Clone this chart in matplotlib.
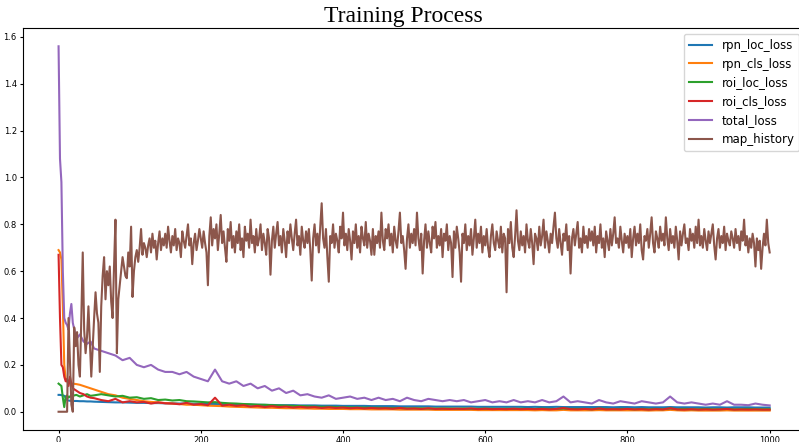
import matplotlib
matplotlib.use("Agg")
import matplotlib.pyplot as plt
import numpy as np

# iterations for the loss curves: dense at the start, every 10 after that
early_iter = [0, 2, 4, 6, 8, 10, 12, 14, 16, 18, 20, 25, 30, 35, 40, 45, 50]
loss_iter = np.concatenate([early_iter, np.arange(60, 1001, 10)])

rpn_loc_loss = [0.072, 0.072, 0.071, 0.070, 0.068, 0.060, 0.050, 0.048, 0.047, 0.047, 0.046, 0.046, 0.045, 0.045, 0.044, 0.044, 0.043,
                0.042, 0.041, 0.040, 0.040, 0.039, 0.038, 0.038, 0.037, 0.037, 0.036,
                0.036, 0.035, 0.035, 0.034, 0.034, 0.033, 0.033, 0.032, 0.032, 0.031,
                0.031, 0.030, 0.030, 0.029, 0.029, 0.028, 0.028, 0.028, 0.027, 0.027,
                0.027, 0.026, 0.026, 0.026, 0.025, 0.025, 0.025, 0.025, 0.024, 0.024,
                0.024, 0.024, 0.023, 0.023, 0.023, 0.023, 0.023, 0.022, 0.022, 0.022,
                0.022, 0.022, 0.022, 0.021, 0.021, 0.021, 0.021, 0.021, 0.021, 0.021,
                0.020, 0.021, 0.020, 0.020, 0.021, 0.020, 0.020, 0.020, 0.020, 0.020,
                0.020, 0.020, 0.019, 0.020, 0.020, 0.019, 0.020, 0.019, 0.019, 0.019,
                0.020, 0.019, 0.019, 0.019, 0.019, 0.018, 0.019, 0.019, 0.018, 0.019,
                0.019, 0.019, 0.018, 0.018, 0.018]

rpn_cls_loss = [0.69, 0.68, 0.65, 0.45, 0.20, 0.14, 0.13, 0.12, 0.125, 0.12, 0.12, 0.118, 0.115, 0.11, 0.105, 0.10, 0.095,
                0.085, 0.075, 0.070, 0.060, 0.055, 0.050, 0.045, 0.042, 0.040, 0.037,
                0.035, 0.033, 0.030, 0.030, 0.028, 0.026, 0.025, 0.024, 0.022, 0.021,
                0.020, 0.019, 0.018, 0.017, 0.017, 0.016, 0.015, 0.015, 0.014, 0.014,
                0.013, 0.013, 0.012, 0.012, 0.012, 0.011, 0.011, 0.011, 0.010, 0.010,
                0.010, 0.010, 0.009, 0.009, 0.009, 0.009, 0.009, 0.008, 0.008, 0.008,
                0.008, 0.008, 0.008, 0.007, 0.007, 0.007, 0.007, 0.007, 0.007, 0.007,
                0.007, 0.006, 0.007, 0.006, 0.006, 0.008, 0.006, 0.006, 0.006, 0.006,
                0.007, 0.006, 0.006, 0.006, 0.006, 0.006, 0.006, 0.005, 0.006, 0.006,
                0.008, 0.006, 0.005, 0.006, 0.005, 0.005, 0.005, 0.005, 0.006, 0.005,
                0.005, 0.005, 0.005, 0.005, 0.005]

roi_loc_loss = [0.12, 0.115, 0.11, 0.06, 0.02, 0.065, 0.07, 0.06, 0.065, 0.07, 0.068, 0.072, 0.065, 0.07, 0.075, 0.068, 0.07,
                0.075, 0.070, 0.065, 0.068, 0.060, 0.062, 0.055, 0.058, 0.050, 0.052,
                0.048, 0.050, 0.045, 0.044, 0.042, 0.040, 0.041, 0.038, 0.036, 0.035,
                0.033, 0.032, 0.030, 0.030, 0.028, 0.027, 0.026, 0.025, 0.024, 0.023,
                0.022, 0.021, 0.021, 0.020, 0.019, 0.019, 0.018, 0.018, 0.017, 0.017,
                0.016, 0.016, 0.016, 0.015, 0.015, 0.015, 0.014, 0.014, 0.014, 0.014,
                0.013, 0.014, 0.013, 0.013, 0.013, 0.013, 0.012, 0.013, 0.012, 0.013,
                0.012, 0.012, 0.013, 0.012, 0.012, 0.014, 0.012, 0.012, 0.012, 0.011,
                0.013, 0.012, 0.011, 0.012, 0.012, 0.011, 0.012, 0.011, 0.012, 0.011,
                0.014, 0.011, 0.012, 0.011, 0.011, 0.012, 0.011, 0.011, 0.012, 0.011,
                0.011, 0.012, 0.011, 0.011, 0.011]

roi_cls_loss = [0.67, 0.40, 0.20, 0.19, 0.15, 0.13, 0.14, 0.11, 0.15, 0.12, 0.10, 0.09, 0.08, 0.075, 0.065, 0.06, 0.058,
                0.050, 0.045, 0.055, 0.040, 0.045, 0.040, 0.042, 0.035, 0.040, 0.036,
                0.035, 0.032, 0.038, 0.030, 0.033, 0.028, 0.060, 0.026, 0.030, 0.025,
                0.028, 0.022, 0.025, 0.020, 0.024, 0.020, 0.022, 0.018, 0.021, 0.018,
                0.020, 0.016, 0.019, 0.016, 0.018, 0.015, 0.017, 0.014, 0.016, 0.014,
                0.015, 0.013, 0.016, 0.013, 0.014, 0.012, 0.015, 0.012, 0.013, 0.012,
                0.013, 0.012, 0.014, 0.011, 0.013, 0.011, 0.012, 0.011, 0.013, 0.011,
                0.012, 0.011, 0.012, 0.010, 0.012, 0.016, 0.011, 0.010, 0.012, 0.010,
                0.014, 0.010, 0.011, 0.010, 0.012, 0.010, 0.011, 0.009, 0.011, 0.010,
                0.015, 0.010, 0.009, 0.011, 0.009, 0.010, 0.009, 0.010, 0.012, 0.009,
                0.010, 0.009, 0.010, 0.009, 0.009]

total_loss = [1.56, 1.08, 0.98, 0.60, 0.40, 0.38, 0.37, 0.35, 0.42, 0.46, 0.38, 0.31, 0.33, 0.30, 0.29, 0.30, 0.27,
              0.26, 0.25, 0.24, 0.22, 0.23, 0.20, 0.19, 0.20, 0.18, 0.17,
              0.17, 0.16, 0.17, 0.15, 0.14, 0.13, 0.18, 0.13, 0.12, 0.13,
              0.11, 0.12, 0.10, 0.11, 0.09, 0.10, 0.08, 0.09, 0.07, 0.075,
              0.065, 0.06, 0.07, 0.055, 0.06, 0.065, 0.055, 0.06, 0.05, 0.06,
              0.05, 0.055, 0.045, 0.06, 0.05, 0.045, 0.055, 0.05, 0.045, 0.05,
              0.045, 0.05, 0.04, 0.045, 0.05, 0.04, 0.045, 0.04, 0.05, 0.04,
              0.045, 0.04, 0.05, 0.04, 0.045, 0.065, 0.04, 0.045, 0.04, 0.035,
              0.05, 0.04, 0.035, 0.045, 0.04, 0.035, 0.045, 0.04, 0.035, 0.04,
              0.065, 0.04, 0.035, 0.04, 0.035, 0.03, 0.035, 0.03, 0.045, 0.03,
              0.03, 0.028, 0.035, 0.03, 0.027]

# map history, one value every 2 iterations (0..1000), 25 values per row
map_history = [
    0.00, 0.00, 0.00, 0.00, 0.00, 0.00, 0.00, 0.40, 0.22, 0.03, 0.00, 0.36, 0.28, 0.34, 0.20, 0.15, 0.40, 0.68, 0.35, 0.25, 0.32, 0.45, 0.30, 0.15, 0.28,
    0.40, 0.51, 0.42, 0.38, 0.17, 0.45, 0.58, 0.66, 0.48, 0.60, 0.54, 0.62, 0.47, 0.40, 0.62, 0.82, 0.25, 0.48, 0.54, 0.60, 0.66, 0.62, 0.58, 0.57, 0.68,
    0.62, 0.79, 0.49, 0.60, 0.66, 0.69, 0.64, 0.70, 0.78, 0.67, 0.72, 0.70, 0.66, 0.71, 0.74, 0.68, 0.76, 0.70, 0.73, 0.65, 0.72, 0.77, 0.69, 0.74, 0.71,
    0.76, 0.70, 0.79, 0.73, 0.68, 0.75, 0.71, 0.78, 0.69, 0.74, 0.72, 0.66, 0.77, 0.73, 0.70, 0.75, 0.80, 0.71, 0.74, 0.63, 0.72, 0.76, 0.69, 0.73, 0.78,
    0.74, 0.70, 0.77, 0.72, 0.68, 0.54, 0.75, 0.83, 0.71, 0.78, 0.74, 0.80, 0.69, 0.76, 0.84, 0.72, 0.77, 0.70, 0.64, 0.78, 0.73, 0.81, 0.70, 0.75, 0.68,
    0.77, 0.72, 0.80, 0.69, 0.74, 0.66, 0.79, 0.73, 0.76, 0.70, 0.82, 0.72, 0.75, 0.68, 0.78, 0.71, 0.74, 0.80, 0.69, 0.76, 0.72, 0.67, 0.78, 0.74, 0.585,
    0.73, 0.79, 0.70, 0.76, 0.81, 0.71, 0.75, 0.68, 0.78, 0.73, 0.66, 0.77, 0.72, 0.80, 0.74, 0.69, 0.76, 0.82, 0.71, 0.75, 0.67, 0.79, 0.73, 0.70, 0.77,
    0.72, 0.78, 0.69, 0.56, 0.74, 0.80, 0.71, 0.76, 0.68, 0.79, 0.89, 0.74, 0.70, 0.78, 0.66, 0.555, 0.75, 0.72, 0.80, 0.70, 0.76, 0.73, 0.68, 0.79, 0.74,
    0.85, 0.71, 0.76, 0.69, 0.78, 0.73, 0.65, 0.77, 0.72, 0.80, 0.70, 0.75, 0.68, 0.79, 0.74, 0.71, 0.81, 0.70, 0.76, 0.73, 0.67, 0.78, 0.67, 0.75, 0.72,
    0.77, 0.70, 0.85, 0.73, 0.69, 0.78, 0.74, 0.80, 0.71, 0.76, 0.68, 0.79, 0.73, 0.70, 0.77, 0.85, 0.72, 0.75, 0.69, 0.61, 0.74, 0.80, 0.70, 0.76, 0.72,
    0.78, 0.71, 0.85, 0.74, 0.69, 0.76, 0.59, 0.73, 0.80, 0.70, 0.77, 0.72, 0.68, 0.79, 0.74, 0.81, 0.70, 0.75, 0.71, 0.78, 0.66, 0.76, 0.73, 0.80, 0.69,
    0.75, 0.72, 0.575, 0.77, 0.70, 0.79, 0.74, 0.68, 0.555, 0.76, 0.72, 0.80, 0.69, 0.75, 0.71, 0.78, 0.67, 0.74, 0.82, 0.70, 0.76, 0.72, 0.79, 0.68, 0.75,
    0.71, 0.78, 0.70, 0.66, 0.75, 0.80, 0.72, 0.69, 0.77, 0.73, 0.70, 0.79, 0.68, 0.76, 0.74, 0.51, 0.78, 0.72, 0.81, 0.70, 0.66, 0.75, 0.86, 0.73, 0.69,
    0.77, 0.71, 0.75, 0.68, 0.80, 0.73, 0.70, 0.78, 0.72, 0.63, 0.76, 0.74, 0.69, 0.79, 0.71, 0.75, 0.82, 0.70, 0.77, 0.73, 0.68, 0.76, 0.72, 0.79, 0.85,
    0.74, 0.70, 0.78, 0.72, 0.67, 0.76, 0.73, 0.80, 0.69, 0.75, 0.59, 0.74, 0.78, 0.71, 0.76, 0.81, 0.70, 0.74, 0.68, 0.79, 0.72, 0.75, 0.70, 0.78, 0.73,
    0.77, 0.71, 0.79, 0.68, 0.75, 0.72, 0.80, 0.70, 0.74, 0.66, 0.77, 0.73, 0.69, 0.78, 0.71, 0.76, 0.83, 0.72, 0.74, 0.70, 0.79, 0.73, 0.68, 0.76, 0.72,
    0.75, 0.70, 0.78, 0.66, 0.74, 0.79, 0.71, 0.76, 0.72, 0.80, 0.69, 0.65, 0.75, 0.73, 0.78, 0.70, 0.76, 0.83, 0.72, 0.68, 0.77, 0.74, 0.70, 0.79, 0.73,
    0.76, 0.71, 0.83, 0.74, 0.69, 0.78, 0.72, 0.75, 0.70, 0.79, 0.73, 0.65, 0.77, 0.71, 0.76, 0.80, 0.72, 0.74, 0.69, 0.78, 0.73, 0.76, 0.70, 0.79, 0.72,
    0.82, 0.71, 0.75, 0.70, 0.78, 0.73, 0.69, 0.77, 0.72, 0.76, 0.80, 0.71, 0.65, 0.74, 0.78, 0.70, 0.75, 0.72, 0.79, 0.69, 0.76, 0.73, 0.71, 0.77, 0.74,
    0.70, 0.78, 0.72, 0.75, 0.69, 0.77, 0.73, 0.82, 0.71, 0.75, 0.68, 0.74, 0.70, 0.76, 0.72, 0.62, 0.74, 0.69, 0.73, 0.61, 0.70, 0.76, 0.71, 0.82, 0.72,
    0.68]
map_iter = np.arange(len(map_history)) * 2

fig = plt.figure(figsize=(7.99, 4.42), dpi=100)
# the plot is cut off on the right side in the reference
ax = fig.add_axes([0.0288, 0.0271, 0.979, 0.9095])

ax.plot(loss_iter, rpn_loc_loss, label="rpn_loc_loss")
ax.plot(loss_iter, rpn_cls_loss, label="rpn_cls_loss")
ax.plot(loss_iter, roi_loc_loss, label="roi_loc_loss")
ax.plot(loss_iter, roi_cls_loss, label="roi_cls_loss")
ax.plot(loss_iter, total_loss, label="total_loss")
ax.plot(map_iter, map_history, label="map_history")

ax.set_xticks([0, 200, 400, 600, 800, 1000])
ax.set_yticks([0.0, 0.2, 0.4, 0.6, 0.8, 1.0, 1.2, 1.4, 1.6])
ax.tick_params(labelsize=6, length=2.5, pad=2)
ax.legend(loc="upper right", fontsize=8.5)

fig.text(403 / 799, 1 - 22 / 442, "Training Process", family="Liberation Serif",
         fontsize=17, ha="center", va="baseline")

fig.savefig("out.png", dpi=100)
